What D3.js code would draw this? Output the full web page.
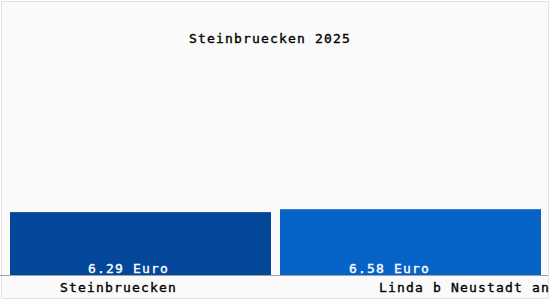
<!DOCTYPE html>
<html>
<head>
<meta charset="utf-8">
<script src="https://cdn.jsdelivr.net/npm/d3@7"></script>
<style>
body { margin: 0; background: #fff; }
text { font-family: "DejaVu Sans Mono", monospace; font-size: 13px; letter-spacing: 1.17px; stroke-width: 0.35px; }
</style>
</head>
<body>
<script>
// data
var title = "Steinbruecken 2025";
var places = ["Steinbruecken", "Linda b Neustadt an"];
var prices = [6.29, 6.58];
var unit = "Euro";
var colors = ["#03479a", "#0563c8"];

var Width = 550, Height = 300;
var baseY = 275;

var svg = d3.select("body").append("svg")
	.attr("width", Width)
	.attr("height", Height);

// frame
svg.append("rect")
	.attr("x", 1.5).attr("y", 1.5)
	.attr("width", Width - 3).attr("height", Height - 3)
	.attr("style", "fill: #fafafa; stroke: #e2e2e2; stroke-width: 1");

var x = d3.scaleBand()
	.domain(places)
	.range([10, 541])
	.paddingInner(0.0333);

var y = d3.scaleLinear()
	.domain([0, 20])
	.range([baseY, 75]);

svg.append("text")
	.attr("x", 270)
	.attr("y", 43)
	.attr("text-anchor", "middle")
	.attr("fill", "#000")
	.attr("stroke", "#000")
	.text(title);

svg.selectAll("rect.bar")
	.data(prices)
	.enter().append("rect")
	.attr("class", "bar")
	.attr("x", function(d, i) { return x(places[i]); })
	.attr("y", function(d) { return y(d); })
	.attr("width", x.bandwidth())
	.attr("height", function(d) { return y(0) - y(d); })
	.attr("fill", function(d, i) { return colors[i]; });

// value labels inside the bars
svg.selectAll("text.val")
	.data(prices)
	.enter().append("text")
	.attr("class", "val")
	.attr("x", function(d, i) { return x(places[i]) + x.bandwidth() / 2 - 12 - i * 9; })
	.attr("y", 273)
	.attr("text-anchor", "middle")
	.attr("fill", "#fff")
	.attr("stroke", "#fff")
	.text(function(d) { return d.toFixed(2) + " " + unit; });

// base line
svg.append("line")
	.attr("x1", 0).attr("x2", 548)
	.attr("y1", baseY + 0.5).attr("y2", baseY + 0.5)
	.attr("style", "stroke: #a0a0a0; stroke-width: 1");

// place names under the bars
var labelStart = [60, 379];
svg.selectAll("text.cat")
	.data(places)
	.enter().append("text")
	.attr("class", "cat")
	.attr("x", function(d, i) { return labelStart[i]; })
	.attr("y", 292)
	.attr("fill", "#000")
	.attr("stroke", "#000")
	.text(function(d) { return d; });
</script>
</body>
</html>
